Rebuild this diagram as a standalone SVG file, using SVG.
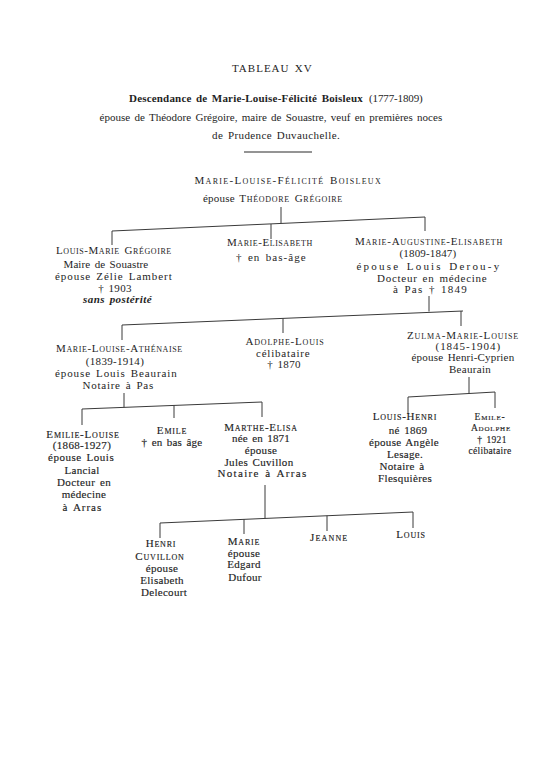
<svg xmlns="http://www.w3.org/2000/svg" width="557" height="768" viewBox="0 0 557 768">
<style>
text{font-family:"Liberation Serif","Times New Roman",serif;fill:#1e1e1e;font-size:11px;text-anchor:middle;letter-spacing:0.3px;word-spacing:1.5px}
.sc{font-variant:small-caps;letter-spacing:0.8px}
.hv text{stroke:#1e1e1e;stroke-width:0.15}
.b{font-weight:bold}
.it{font-style:italic;font-weight:bold}
.sm text{font-size:9.5px}
#connectors path{stroke:#3a3a3a;stroke-width:1;fill:none}
</style>
<rect width="557" height="768" fill="#ffffff"/>
<g id="header">
<text x="272" y="72" font-size="10" textLength="80">TABLEAU XV</text>
<text x="129" y="102" class="b" font-size="11.5" style="text-anchor:start" textLength="234">Descendance de Marie-Louise-Félicité Boisleux</text>
<text x="369" y="102" style="text-anchor:start" textLength="54">(1777-1809)</text>
<text x="271" y="120.5" font-size="10.5" textLength="343">épouse de Théodore Grégoire, maire de Souastre, veuf en premières noces</text>
<text x="276" y="139" font-size="10.5" textLength="128">de Prudence Duvauchelle.</text>
<path d="M244,152 H312" stroke="#2a2a2a" stroke-width="1.2"/>
</g>
<g id="connectors">
<path d="M281,207 V223.5"/>
<path d="M112,231 L425,217"/>
<path d="M112,231 V245"/>
<path d="M271,224 V239"/>
<path d="M425,217 V231"/>
<path d="M429,296 V311.5"/>
<path d="M122,325 L463,311"/>
<path d="M122,325 V340"/>
<path d="M283,318.4 V333"/>
<path d="M461,311 V326"/>
<path d="M124,393 V407.4"/>
<path d="M82,409 L262,402"/>
<path d="M82,409 V425"/>
<path d="M174,405.4 V418"/>
<path d="M262,402 V417"/>
<path d="M469,377 V393.5"/>
<path d="M408,397 L495,392"/>
<path d="M408,397 V414"/>
<path d="M495,392 V408"/>
<path d="M265,485 V518.4"/>
<path d="M160,523 L413,512"/>
<path d="M160,523 V538"/>
<path d="M244,519.3 V534"/>
<path d="M327,515.7 V531"/>
<path d="M413,512 V528"/>
</g>
<g id="root">
<text x="288" y="183.5" class="sc" font-size="12" textLength="187">Marie-Louise-Félicité Boisleux</text>
<text x="273" y="201.5" textLength="140">épouse <tspan class="sc">Théodore Grégoire</tspan></text>
</g>
<g id="louis-marie">
<text x="114" y="253.5" class="sc" textLength="116">Louis-Marie Grégoire</text>
<text x="106" y="267.5" textLength="85">Maire de Souastre</text>
<text x="113.5" y="280" textLength="117">épouse Zélie Lambert</text>
<text x="115" y="291.5">† 1903</text>
<text x="117.5" y="302.5" class="it" textLength="69">sans postérité</text>
</g>
<g id="marie-elisabeth">
<text x="270" y="245.5" class="sc" textLength="86">Marie-Elisabeth</text>
<text x="271" y="260.5" textLength="70">† en bas-âge</text>
</g>
<g id="marie-augustine">
<text x="429" y="244.5" class="sc" textLength="148">Marie-Augustine-Elisabeth</text>
<text x="428" y="257" textLength="57">(1809-1847)</text>
<text x="428" y="269.5" textLength="143">épouse Louis Derou-y</text>
<text x="432" y="281.5" textLength="110">Docteur en médecine</text>
<text x="430" y="293" textLength="74">à Pas † 1849</text>
</g>
<g id="marie-louise-athenaise">
<text x="119.5" y="351.5" class="sc" textLength="127">Marie-Louise-Athénaise</text>
<text x="115" y="365">(1839-1914)</text>
<text x="116" y="377" textLength="122">épouse Louis Beaurain</text>
<text x="118" y="388.5" textLength="71">Notaire à Pas</text>
</g>
<g id="adolphe-louis">
<text x="285" y="344.5" class="sc">Adolphe-Louis</text>
<text x="283" y="357" textLength="54">célibataire</text>
<text x="284" y="368">† 1870</text>
</g>
<g id="zulma">
<text x="463" y="338.5" class="sc" textLength="112">Zulma-Marie-Louise</text>
<text x="468" y="349.5" textLength="65">(1845-1904)</text>
<text x="463" y="360.5" textLength="103">épouse Henri-Cyprien</text>
<text x="470" y="372.5">Beaurain</text>
</g>
<g id="emilie-louise" class="hv">
<text x="83" y="437.5" class="sc">Emilie-Louise</text>
<text x="82" y="448.5">(1868-1927)</text>
<text x="81" y="460.5" textLength="66">épouse Louis</text>
<text x="82" y="473.5">Lancial</text>
<text x="84" y="485.5" textLength="54">Docteur en</text>
<text x="84" y="497.5">médecine</text>
<text x="82" y="510.5" textLength="39">à Arras</text>
</g>
<g id="emile" class="hv">
<text x="172" y="433.5" class="sc">Emile</text>
<text x="172" y="445.5" textLength="61">† en bas âge</text>
</g>
<g id="marthe-elisa" class="hv">
<text x="261" y="430.5" class="sc">Marthe-Elisa</text>
<text x="261" y="441.5" textLength="58">née en 1871</text>
<text x="261" y="453.5">épouse</text>
<text x="259" y="465.5">Jules Cuvillon</text>
<text x="262" y="477" textLength="89">Notaire à Arras</text>
</g>
<g id="louis-henri" class="hv">
<text x="405" y="419.5" class="sc">Louis-Henri</text>
<text x="408" y="433.5">né 1869</text>
<text x="404" y="446">épouse Angèle</text>
<text x="405" y="457.5">Lesage.</text>
<text x="402" y="469.5">Notaire à</text>
<text x="405" y="481.5" textLength="54">Flesquières</text>
</g>
<g id="emile-adolphe" class="hv sm">
<text x="490" y="419.5" class="sc">Emile-</text>
<text x="491" y="430.5" class="sc">Adolphe</text>
<text x="492" y="442.5">† 1921</text>
<text x="490" y="453.5">célibataire</text>
</g>
<g id="henri" class="hv">
<text x="161" y="546.5" class="sc">Henri</text>
<text x="160" y="559.5" class="sc">Cuvillon</text>
<text x="162" y="571.5">épouse</text>
<text x="162" y="583.5">Elisabeth</text>
<text x="164" y="595.5">Delecourt</text>
</g>
<g id="marie" class="hv">
<text x="244" y="544.5" class="sc">Marie</text>
<text x="244" y="556.5">épouse</text>
<text x="244" y="567.5">Edgard</text>
<text x="245" y="580.5">Dufour</text>
</g>
<g id="jeanne" class="hv">
<text x="329" y="540.5" class="sc" textLength="38">Jeanne</text>
</g>
<g id="louis" class="hv">
<text x="411" y="537.5" class="sc">Louis</text>
</g>
</svg>
